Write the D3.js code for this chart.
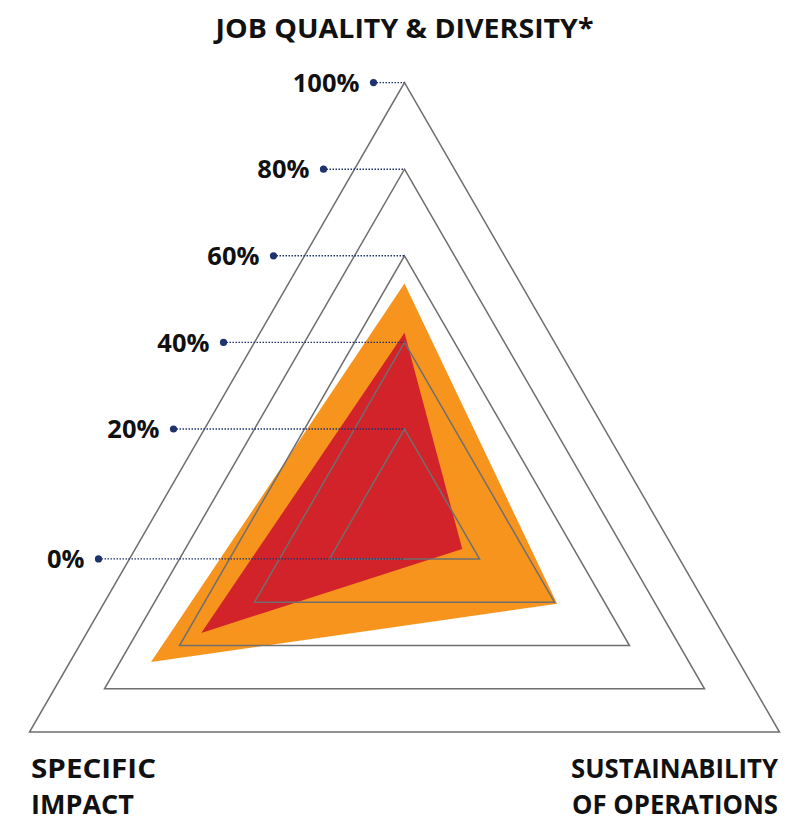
<!DOCTYPE html>
<html>
<head>
<meta charset="utf-8">
<script src="https://cdn.jsdelivr.net/npm/d3@7"></script>
<style>
  body { margin: 0; background: #fff; }
  svg { display: block; }
  text { font-family: "Open Sans", Lato, sans-serif; font-weight: 700; fill: #111; }
</style>
</head>
<body>
<svg width="795" height="821"></svg>
<script>
// axes go clockwise from the top
const axes = ["JOB QUALITY & DIVERSITY*", "SUSTAINABILITY OF OPERATIONS", "SPECIFIC IMPACT"]
const axisLines = [["JOB QUALITY & DIVERSITY*"], ["SUSTAINABILITY", "OF OPERATIONS"], ["SPECIFIC", "IMPACT"]]
const rings = [20, 40, 60, 80, 100]
const tickLabels = ["0%", "20%", "40%", "60%", "80%", "100%"]
const tickValues = [0, 20, 40, 60, 80, 100]
const orangeValues = [53.6, 40.7, 67.6]
const redValues = [42.2, 15.4, 54.2]

const width = 795
const height = 821
const cx = 404.5, cy = 515.6, R = 433

const svg = d3.select("svg")
const r = d3.scaleLinear().domain([0, 100]).range([0, R])
const angle = d3.scaleOrdinal().domain(axes).range([-90, 30, 150].map(a => a * Math.PI / 180))

const pt = (ax, v) => [cx + r(v) * Math.cos(angle(ax)), cy + r(v) * Math.sin(angle(ax))]
const poly = vals => axes.map((ax, i) => pt(ax, vals[i]))
const line = d3.line().curve(d3.curveLinearClosed)

// series fills
svg.append("path").attr("d", line(poly(orangeValues))).attr("fill", "#f7941d")
svg.append("path").attr("d", line(poly(redValues))).attr("fill", "#d2232a")

// grid triangles on top
svg.append("g").selectAll("path")
  .data(rings)
  .enter().append("path")
  .attr("d", v => line(axes.map(ax => pt(ax, v))))
  .attr("fill", "none")
  .attr("stroke", "#6f6f6f")
  .attr("stroke-width", 1.5)

// leaders: 0% points at the bottom of the first ring
const tickY = t => t === 0 ? cy + r(rings[0]) / 2 : cy - r(t)
const outerX = y => cx - (y - (cy - R)) * Math.tan(Math.PI / 6)

const ticks = svg.append("g").selectAll("g")
  .data(tickValues)
  .enter().append("g")
  .attr("transform", t => `translate(${outerX(tickY(t)) - 31}, ${tickY(t)})`)

ticks.append("line")
  .attr("x1", 0)
  .attr("x2", t => cx - (outerX(tickY(t)) - 31))
  .attr("stroke", "#1f3270")
  .attr("stroke-width", 1.4)
  .attr("stroke-dasharray", "1.5 1.5")

ticks.append("circle").attr("r", 3.6).attr("fill", "#1f3270")

ticks.append("text")
  .attr("x", -14)
  .attr("dy", "0.36em")
  .attr("text-anchor", "end")
  .style("font-size", "25.5px")
  .text((t, i) => tickLabels[i])

// axis titles, fitted to the widths in the picture
function title(txt, x, y, anchor, w){
  svg.append("text")
    .attr("x", x).attr("y", y)
    .attr("text-anchor", anchor)
    .attr("textLength", w)
    .attr("lengthAdjust", "spacingAndGlyphs")
    .style("font-size", "26.5px")
    .text(txt)
}
title(axisLines[0][0], cx, 37.5, "middle", 378)
title(axisLines[1][0], 778, 778, "end", 207)
title(axisLines[1][1], 778, 814, "end", 206)
title(axisLines[2][0], 31, 778, "start", 125)
title(axisLines[2][1], 31, 814, "start", 103)
</script>
</body>
</html>
